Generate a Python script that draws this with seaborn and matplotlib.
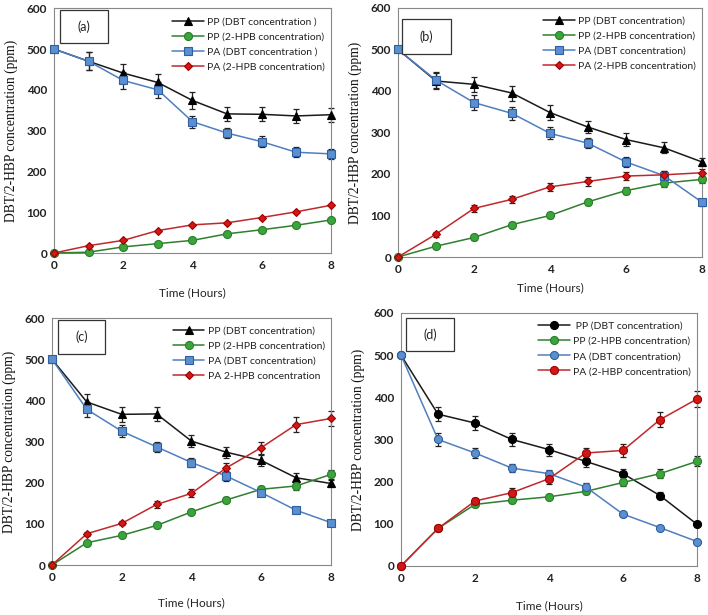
import numpy as np
import matplotlib
matplotlib.use("Agg")
import matplotlib.pyplot as plt
from matplotlib.patches import Rectangle
import seaborn as sns

# -----------------------------
# DATA
# -----------------------------
hours = [0, 1, 2, 3, 4, 5, 6, 7, 8]

# panel (a)
a_pp_dbt = [500, 470, 441, 418, 374, 341, 340, 336, 339]
a_pp_hpb = [0, 2, 15, 23, 31, 47, 57, 68, 81]
a_pa_dbt = [500, 470, 423, 400, 322, 294, 273, 247, 243]
a_pa_hpb = [0, 18, 31, 55, 69, 74, 87, 101, 117]
a_err_pp_dbt = [0, 22, 22, 20, 20, 17, 17, 17, 17]
a_err_pa_dbt = [0, 22, 20, 20, 15, 13, 13, 12, 12]
a_labels = ["PP (DBT concentration )", "PP (2-HPB concentration)",
            "PA (DBT concentration )", "PA (2-HPB concentration)"]

# panel (b)
b_pp_dbt = [500, 424, 416, 395, 348, 313, 283, 263, 229]
b_pp_hpb = [0, 26, 47, 78, 100, 133, 160, 178, 187]
b_pa_dbt = [500, 426, 372, 346, 298, 274, 229, 196, 132]
b_pa_hpb = [0, 55, 117, 139, 169, 182, 195, 198, 203]
b_err_pp_dbt = [0, 20, 18, 18, 18, 15, 15, 13, 10]
b_err_pp_hpb = [0, 4, 5, 6, 6, 7, 8, 10, 8]
b_err_pa_dbt = [0, 20, 18, 16, 14, 12, 12, 10, 8]
b_err_pa_hpb = [0, 6, 8, 8, 10, 10, 10, 10, 8]
b_labels = ["PP (DBT concentration)", "PP (2-HPB concentration)",
            "PA (DBT concentration)", "PA (2-HPB concentration)"]

# panel (c)
c_pp_dbt = [500, 396, 366, 367, 301, 274, 254, 212, 198]
c_pp_hpb = [0, 54, 72, 96, 129, 158, 184, 192, 220]
c_pa_dbt = [500, 378, 325, 287, 249, 216, 176, 133, 103]
c_pa_hpb = [0, 76, 101, 147, 174, 236, 285, 341, 356]
c_err_pp_dbt = [0, 20, 18, 18, 15, 13, 13, 12, 8]
c_err_pp_hpb = [0, 4, 5, 6, 6, 6, 8, 10, 10]
c_err_pa_dbt = [0, 18, 15, 13, 12, 13, 8, 5, 5]
c_err_pa_hpb = [0, 5, 5, 8, 10, 13, 15, 18, 18]
c_labels = ["PP (DBT concentration)", "PP (2-HPB concentration)",
            "PA (DBT concentration)", "PA 2-HPB concentration"]

# panel (d)
d_pp_dbt = [500, 360, 339, 300, 276, 248, 219, 167, 99]
d_pp_hpb = [0, 89, 146, 156, 164, 177, 198, 219, 248]
d_pa_dbt = [500, 300, 268, 232, 219, 187, 123, 91, 58]
d_pa_hpb = [0, 89, 154, 174, 207, 268, 274, 347, 396]
d_err_pp_dbt = [0, 17, 17, 15, 14, 13, 12, 8, 5]
d_err_pp_hpb = [0, 4, 6, 6, 6, 6, 8, 10, 12]
d_err_pa_dbt = [0, 15, 12, 10, 8, 10, 5, 3, 3]
d_err_pa_hpb = [0, 5, 8, 10, 12, 12, 15, 18, 18]
d_labels = [" PP (DBT concentration)", "PP (2-HPB concentration)",
            "PA (DBT concentration)", "PA (2-HBP concentration)"]

zeros = [0] * 9

# -----------------------------
# STYLE
# -----------------------------
sns.set_style("white")
plt.rcParams["font.family"] = ["Lato", "DejaVu Sans"]

line_cols = ["#1a1a1a", "#2f7f2f", "#4f7fbf", "#c0282c"]
face_cols = ["#000000", "#3aa53a", "#5b8fd0", "#d01818"]
edge_cols = ["#000000", "#2d7d2d", "#2f5f9f", "#a00000"]

fig = plt.figure(figsize=(7.08, 6.15), dpi=100)

panels = [
    ("(a)", [0.0763, 0.5886, 0.391, 0.398], (0.022, 0.857, 0.173, 0.135), 12,
     [a_pp_dbt, a_pp_hpb, a_pa_dbt, a_pa_hpb],
     [a_err_pp_dbt, zeros, a_err_pa_dbt, zeros], a_labels, ["^", "o", "s", "D"]),
    ("(b)", [0.5621, 0.5821, 0.4294, 0.405], (0.013, 0.815, 0.161, 0.141), 5,
     [b_pp_dbt, b_pp_hpb, b_pa_dbt, b_pa_hpb],
     [b_err_pp_dbt, b_err_pp_hpb, b_err_pa_dbt, b_err_pa_hpb], b_labels, ["^", "o", "s", "D"]),
    ("(c)", [0.0734, 0.0813, 0.394, 0.4016], (0.0215, 0.854, 0.169, 0.138), 10,
     [c_pp_dbt, c_pp_hpb, c_pa_dbt, c_pa_hpb],
     [c_err_pp_dbt, c_err_pp_hpb, c_err_pa_dbt, c_err_pa_hpb], c_labels, ["^", "o", "s", "D"]),
    ("(d)", [0.5664, 0.0797, 0.418, 0.4114], (0.017, 0.85, 0.162, 0.13), 12,
     [d_pp_dbt, d_pp_hpb, d_pa_dbt, d_pa_hpb],
     [d_err_pp_dbt, d_err_pp_hpb, d_err_pa_dbt, d_err_pa_hpb], d_labels, ["o", "o", "o", "o"]),
]

for tag, pos, box, xpad, series, errs, labels, markers in panels:
    ax = fig.add_axes(pos)
    for i in range(4):
        ms = 5.8
        if markers[i] == "D":
            ms = 4.3
        elif markers[i] == "^":
            ms = 5.5
        sns.lineplot(x=hours, y=series[i], ax=ax, color=line_cols[i], lw=1.1,
                     marker=markers[i], markersize=ms, markerfacecolor=face_cols[i],
                     markeredgecolor=edge_cols[i], markeredgewidth=0.8,
                     label=labels[i], clip_on=False, zorder=3 + i)
        if max(errs[i]) > 0:
            ax.errorbar(hours, series[i], yerr=errs[i], fmt="none", ecolor="#222222",
                        elinewidth=0.9, capsize=2.5, capthick=0.9, clip_on=False, zorder=2)

    ax.set_xlim(0, 8)
    ax.set_ylim(0, 600)
    ax.set_xticks([0, 2, 4, 6, 8])
    ax.set_yticks([0, 100, 200, 300, 400, 500, 600])
    ax.tick_params(axis="both", labelsize=8.5, length=3, width=0.8, direction="out",
                   color="#555555", pad=2)
    for lab in ax.get_xticklabels() + ax.get_yticklabels():
        lab.set_fontweight("bold")
        lab.set_color("#222222")
    for sp in ax.spines.values():
        sp.set_color("#888888")
        sp.set_linewidth(0.8)

    ax.set_xlabel("Time (Hours)", fontsize=8.5, color="#222222", labelpad=xpad)
    ax.set_ylabel("DBT/2-HBP concentration (ppm)", fontsize=9.8,
                  family=["Liberation Serif", "DejaVu Serif"], color="#111111", labelpad=6)

    ax.add_patch(Rectangle((box[0], box[1]), box[2], box[3], transform=ax.transAxes,
                           fill=True, facecolor="white", edgecolor="#333333", lw=0.9, zorder=6))
    ax.text(box[0] + box[2] / 2, box[1] + box[3] / 2, tag, transform=ax.transAxes,
            ha="center", va="center", fontsize=9, color="#222222", zorder=7)

    leg = ax.legend(loc="upper right", bbox_to_anchor=(1.0, 0.99), frameon=False,
                    fontsize=7.5, handlelength=3.0, handletextpad=0.3,
                    labelspacing=0.55, borderaxespad=0.2)
    for t in leg.get_texts():
        t.set_color("#222222")

plt.savefig("out.png", dpi=100)
plt.close()
